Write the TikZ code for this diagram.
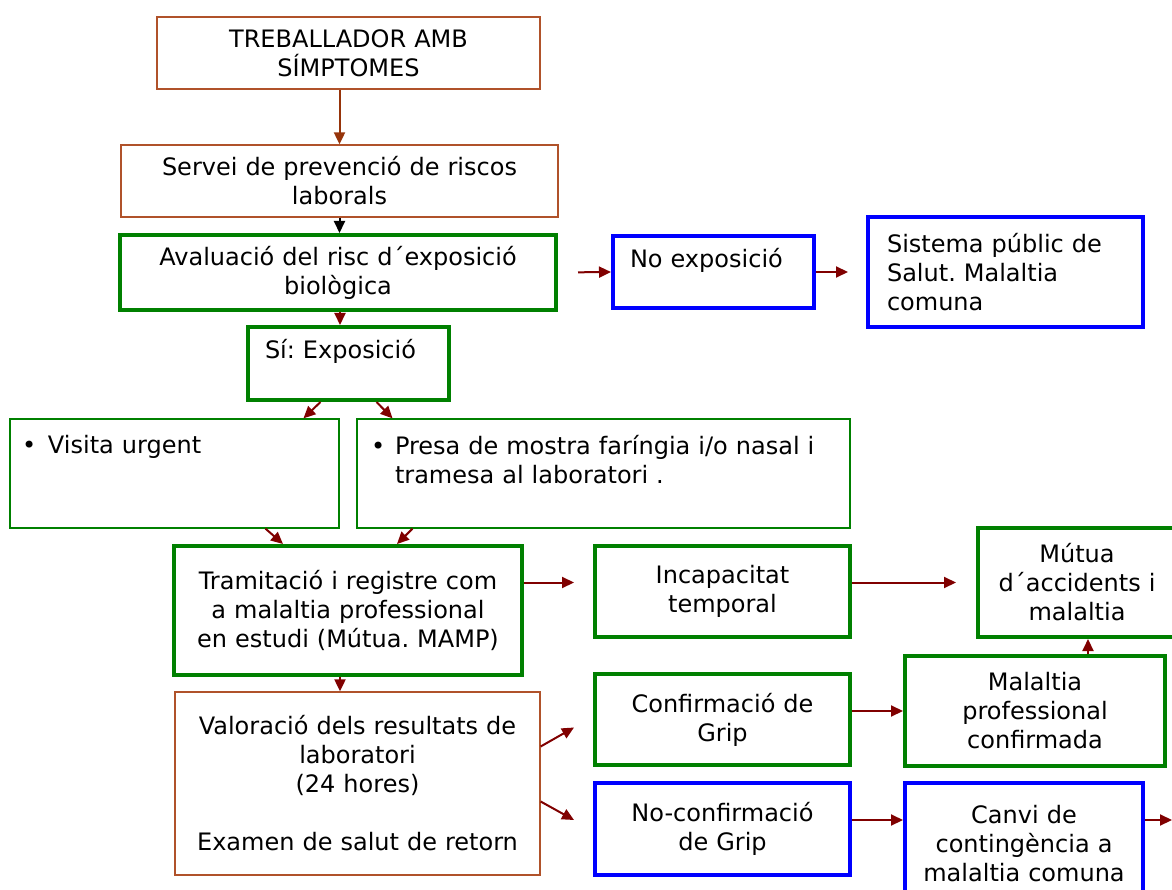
\documentclass[tikz,border=0pt]{standalone}
\usepackage{fontspec}
\setmainfont{DejaVu Sans}
\usetikzlibrary{arrows.meta}
\definecolor{boxbrown}{RGB}{176,82,42}
\definecolor{arrbrown}{RGB}{150,52,10}
\definecolor{boxgreen}{RGB}{0,128,0}
\definecolor{boxblue}{RGB}{0,0,255}
\definecolor{arrred}{RGB}{128,0,0}
\frenchspacing

\begin{document}
\begin{tikzpicture}[
x=1pt, y=-1pt,
every node/.style={inner sep=0pt, font=\fontsize{24}{29}\selectfont},
brownbox/.style={draw=boxbrown, line width=1.3pt, fill=white, align=center},
greenbox/.style={draw=boxgreen, line width=4pt, fill=white, align=center},
thingreen/.style={draw=boxgreen, line width=1.3pt, fill=white, align=left},
bluebox/.style={draw=boxblue, line width=4pt, fill=white, align=left},
arr/.style={-{Triangle[length=12pt,width=11pt]}, line width=2pt, draw=arrred}
]
\useasboundingbox (0,0) rectangle (1172,890);
\clip (0,0) rectangle (1172,890);

\node[brownbox, minimum width=383, minimum height=72, text width=360] at (348.5,53) (treb) {TREBALLADOR AMB\\SÍMPTOMES};
\node[brownbox, minimum width=437, minimum height=72, text width=420] at (339.5,181) (serv) {Servei de prevenció de riscos\\laborals};
\node[greenbox, minimum width=436, minimum height=75, text width=420] at (338,272.5) (aval) {Avaluació del risc d´exposició\\biològica};
\node[bluebox, minimum width=201, minimum height=72, text width=167] at (713.5,272) (noexp) {No exposició\\\mbox{}};
\node[bluebox, minimum width=275, minimum height=110, text width=237] at (1005.5,272) (sist) {Sistema públic de\\Salut. Malaltia\\comuna};
\node[greenbox, align=left, minimum width=201, minimum height=73, text width=167] at (348.5,363.5) (si) {Sí: Exposició\\\mbox{}};
\node[thingreen, minimum width=329, minimum height=109, text width=305] at (174.5,473.5) (visita) {\makebox[26pt][l]{\textbullet}Visita urgent\\\mbox{}\\\mbox{}};
\node[thingreen, minimum width=493, minimum height=109, text width=465] at (603.5,473.5) (presa) {\makebox[24pt][l]{\textbullet}Presa de mostra faríngia i/o nasal i\\\hspace*{24pt}tramesa al laboratori .\\\mbox{}};
\node[greenbox, minimum width=348, minimum height=129, text width=330] at (348,610.5) (tram) {Tramitació i registre com\\a malaltia professional\\en estudi (Mútua. MAMP)};
\node[greenbox, minimum width=255, minimum height=91, text width=235] at (722.5,591.5) (incap) {Incapacitat\\temporal};
\node[greenbox, minimum width=198, minimum height=109, text width=185] at (1077,582.5) (mutua) {Mútua\\d´accidents i\\malaltia};
\node[brownbox, minimum width=365, minimum height=183, text width=350] at (357.5,783.5) (val) {Valoració dels resultats de\\laboratori\\(24 hores)\\\mbox{}\\Examen de salut de retorn};
\node[greenbox, minimum width=255, minimum height=91, text width=235] at (722.5,719.5) (conf) {Confirmació de\\Grip};
\node[greenbox, minimum width=260, minimum height=110, text width=240] at (1035,711) (mal) {Malaltia\\professional\\confirmada};
\node[bluebox, align=center, minimum width=255, minimum height=92, text width=235] at (722.5,829) (noconf) {No-confirmació\\de Grip};
\node[bluebox, align=center, minimum width=238, minimum height=150, text width=225] at (1024,858) (canvi) {Canvi de\\contingència a\\malaltia comuna\\\mbox{}};
\coordinate (out) at (1172,820);

\draw[arr, draw=arrbrown] (serv.north |- treb.south) -- (serv.north);
\draw[arr, draw=black] (serv.south) -- (serv.south |- aval.north);
\draw[arr] ([xshift=2pt]aval.south) -- ([xshift=2pt]aval.south |- si.north);
\draw[arr, shorten <=20pt] (aval.east) -- (noexp.west);
\draw[arr, shorten >=18pt] (noexp.east) -- (noexp.east -| sist.west);
\draw[arr] ([xshift=-28pt]si.south) -- ([xshift=129pt]visita.north);
\draw[arr] ([xshift=28pt]si.south) -- ([xshift=-211pt]presa.north);
\draw[arr] ([xshift=91pt]visita.south) -- ([xshift=-65pt]tram.north);
\draw[arr] ([xshift=-191pt]presa.south) -- ([xshift=49pt]tram.north);
\draw[arr, shorten >=19pt] ([yshift=28pt]tram.east) -- ([yshift=28pt]tram.east -| incap.west);
\draw[arr, shorten >=20pt] ([yshift=9pt]incap.east) -- ([yshift=9pt]incap.east -| mutua.west);
\draw[arr] ([xshift=-8pt]tram.south) -- ([xshift=-8pt]tram.south |- val.north);
\draw[arr] ([yshift=37pt]val.east) -- ([xshift=-19pt,yshift=-8pt]conf.west);
\draw[arr] ([yshift=-18pt]val.east) -- ([xshift=-19pt,yshift=9pt]noconf.west);
\draw[arr] (conf.east |- mal.west) -- (mal.west);
\draw[arr] ([xshift=53pt]mal.north) -- ([xshift=53pt]mal.north |- mutua.south);
\draw[arr] ([yshift=9pt]noconf.east) -- ([yshift=9pt]noconf.east -| canvi.west);
\draw[arr] (canvi.east |- out) -- (out);

\end{tikzpicture}
\end{document}
